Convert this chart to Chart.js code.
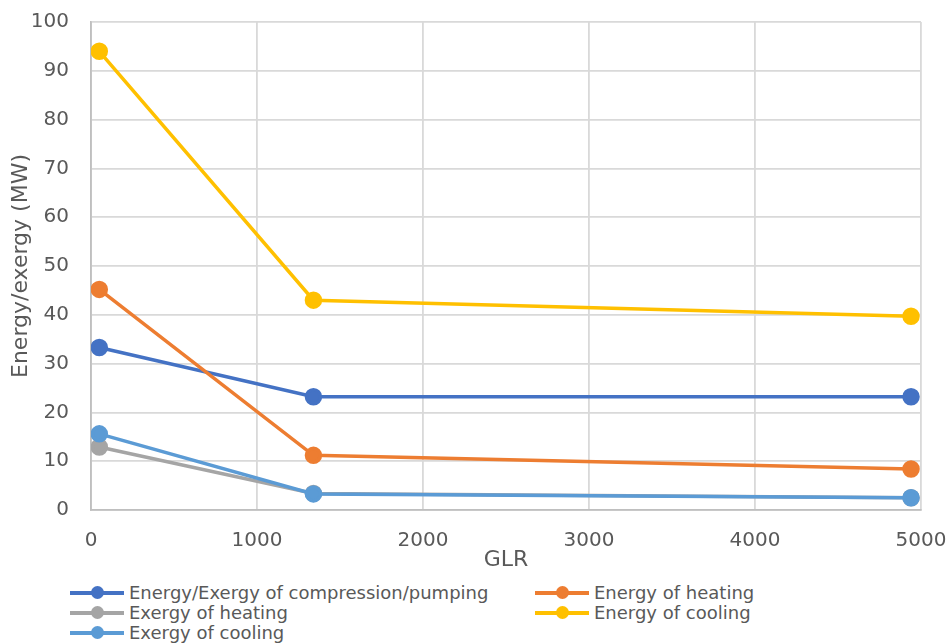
<!DOCTYPE html>
<html lang="en">
<head>
    <meta charset="UTF-8" />
    <title>Energy / exergy vs GLR</title>
    <script src="https://cdn.jsdelivr.net/npm/chart.js"></script>
    <style>
        body { margin: 0; background: #fff; font-family: "DejaVu Sans", sans-serif; }
        #wrap { position: relative; width: 950px; height: 580px; }
        #legend { position: absolute; left: 70px; top: 582px; width: 880px; color: #595959; font-size: 18px; }
        .item { position: absolute; display: flex; align-items: center; white-space: nowrap; }
        .mark { position: relative; width: 54px; height: 4px; margin-right: 5px; }
        .mark span { position: absolute; left: 21px; top: -5px; width: 13px; height: 13px; border-radius: 50%; }
    </style>
</head>
<body>
    <div id="wrap"><canvas id="chart" width="950" height="580"></canvas></div>
    <div id="legend"></div>

    <script>
        // x positions (GLR) and series values
        const glr = [50, 1340, 4940];
        const seriesNames = [
            'Energy/Exergy of compression/pumping',
            'Energy of heating',
            'Exergy of heating',
            'Energy of cooling',
            'Exergy of cooling'
        ];
        const compression = [33.3, 23.2, 23.2];
        const energyHeating = [45.2, 11.2, 8.4];
        const exergyHeating = [12.9, 3.4, 2.5];
        const energyCooling = [94.0, 43.0, 39.7];
        const exergyCooling = [15.6, 3.3, 2.5];
        const colors = ['#4472C4', '#ED7D31', '#A5A5A5', '#FFC000', '#5B9BD5'];
        const yTicks = [0, 10, 20, 30, 40, 50, 60, 70, 80, 90, 100];
        const xTicks = [0, 1000, 2000, 3000, 4000, 5000];

        const allValues = [compression, energyHeating, exergyHeating, energyCooling, exergyCooling];
        const datasets = allValues.map((vals, i) => ({
            label: seriesNames[i],
            data: vals.map((v, j) => ({ x: glr[j], y: v })),
            borderColor: colors[i],
            backgroundColor: colors[i],
            borderWidth: 3.5,
            pointRadius: 7,
            pointHoverRadius: 7,
            order: allValues.length - i
        }));

        const tickFont = { family: 'DejaVu Sans', size: 20 };
        const titleFont = { family: 'DejaVu Sans', size: 22 };

        new Chart(document.getElementById('chart'), {
            type: 'line',
            data: { datasets },
            options: {
                responsive: false,
                animation: false,
                layout: { padding: { top: 22, right: 29, left: 8, bottom: 0 } },
                plugins: { legend: { display: false }, tooltip: { enabled: false } },
                scales: {
                    x: {
                        type: 'linear',
                        min: 0, max: 5000,
                        afterBuildTicks: s => { s.ticks = xTicks.map(v => ({ value: v })); },
                        afterFit: s => { s.height = 70; s.paddingLeft = 0; s.paddingRight = 0; },
                        grid: { color: '#d9d9d9', lineWidth: 1.8, drawTicks: false },
                        border: { color: '#bfbfbf', width: 1.8 },
                        ticks: { color: '#595959', font: tickFont, padding: 19, maxRotation: 0, callback: v => String(v) },
                        title: { display: true, text: 'GLR', color: '#595959', font: titleFont, padding: { top: -19, bottom: 7 } }
                    },
                    y: {
                        min: 0, max: 100,
                        afterBuildTicks: s => { s.ticks = yTicks.map(v => ({ value: v })); },
                        afterFit: s => { s.width = 83; s.paddingTop = 0; s.paddingBottom = 0; },
                        grid: { color: '#d9d9d9', lineWidth: 1.8, drawTicks: false },
                        border: { color: '#bfbfbf', width: 1.8 },
                        ticks: { color: '#595959', font: tickFont, padding: 22, callback: v => String(v) },
                        title: { display: true, text: 'Energy/exergy (MW)', color: '#595959', font: titleFont, padding: { top: 0, bottom: 0 } }
                    }
                }
            }
        });

        // legend laid out in two columns like the original
        const legendPos = [[0, 0], [465, 0], [0, 20], [465, 20], [0, 40]];
        const legend = document.getElementById('legend');
        seriesNames.forEach((name, i) => {
            const item = document.createElement('div');
            item.className = 'item';
            item.style.left = legendPos[i][0] + 'px';
            item.style.top = legendPos[i][1] + 'px';
            item.innerHTML = `<div class="mark" style="background:${colors[i]}"><span style="background:${colors[i]}"></span></div>${name}`;
            legend.appendChild(item);
        });
    </script>
</body>
</html>
